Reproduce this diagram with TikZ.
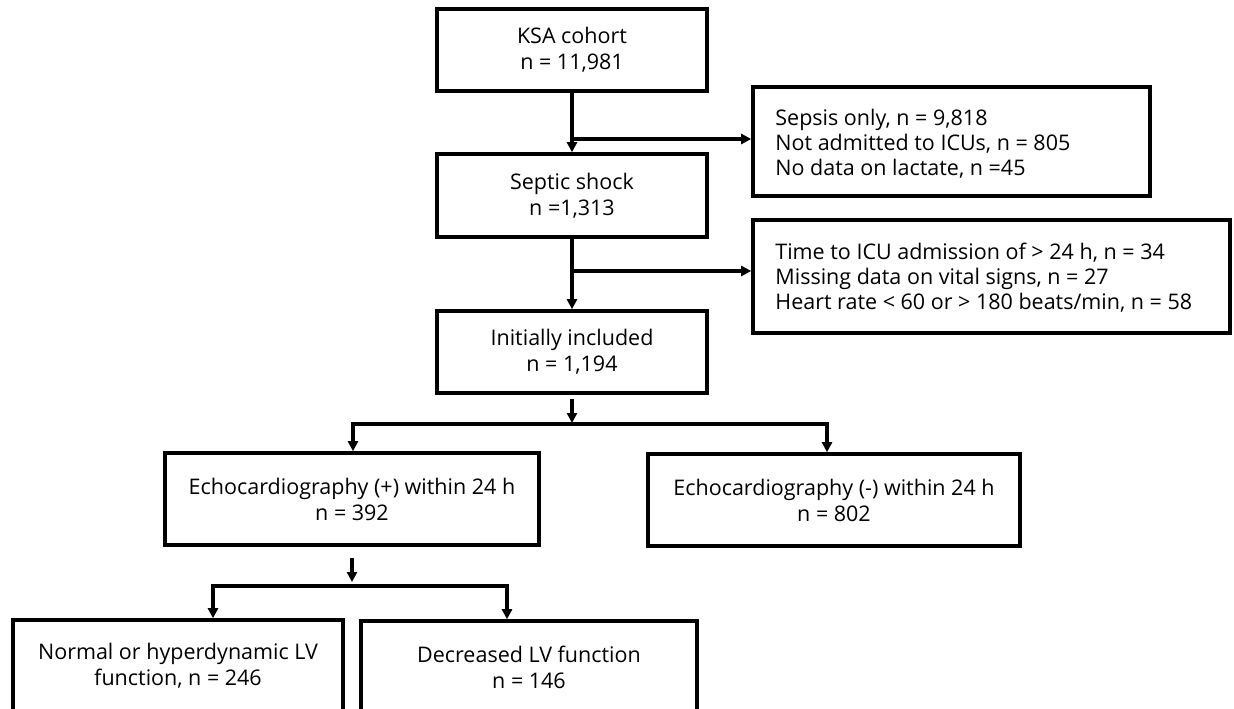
\documentclass[tikz,border=0pt]{standalone}
\usepackage{fontspec}
\setmainfont{Open Sans}
\usetikzlibrary{arrows.meta,calc}
\begin{document}
\begin{tikzpicture}[x=1pt,y=-1pt,
  flowbox/.style={draw, line width=3.6pt, align=center, inner sep=0pt, font=\fontsize{21.5}{26}\selectfont},
  exclbox/.style={draw, line width=3.6pt, inner sep=0pt},
  txt/.style={align=left, inner sep=0pt, font=\fontsize{21.5}{25}\selectfont},
  tip/.style={-{Triangle[length=10pt,width=10pt]}},
  conn/.style={line width=3.2pt, tip},
  plain/.style={line width=3.2pt}]
\useasboundingbox (0,0) rectangle (1234,709);
% main column
\node[flowbox, minimum width=270, minimum height=82] (ksa) at (572,50) {KSA cohort\\n = 11,981};
\node[flowbox, minimum width=270, minimum height=83] (septic) at (572,195.5) {Septic shock\\n =1,313};
\node[flowbox, minimum width=270, minimum height=82] (init) at (572,352) {Initially included\\n = 1,194};
% exclusion boxes
\node[exclbox, minimum width=397, minimum height=109] (excl1) at (951.5,141.5) {};
\node[txt, anchor=west] (excl1t) at ([xshift=24pt,yshift=-2pt]excl1.west) {Sepsis only, n = 9,818\\Not admitted to ICUs, n = 805\\No data on lactate, n =45};
\node[exclbox, minimum width=477, minimum height=113] (excl2) at (991.5,276.5) {};
\node[txt, anchor=west] (excl2t) at ([xshift=24pt,yshift=-1pt]excl2.west) {Time to ICU admission of > 24 h, n = 34\\Missing data on vital signs, n = 27\\Heart rate < 60 or > 180 beats/min, n = 58};
% echo boxes
\node[flowbox, minimum width=374, minimum height=92] (echop) at (352,499) {Echocardiography (+) within 24 h\\n = 392};
\node[flowbox, minimum width=372, minimum height=92] (echom) at (834,500) {Echocardiography (-) within 24 h\\n = 802};
% LV boxes
\node[flowbox, minimum width=330, minimum height=92] (normal) at (178,666) {Normal or hyperdynamic LV\\function, n = 246};
\node[flowbox, minimum width=336, minimum height=92] (decr) at (529,667) {Decreased LV function\\n = 146};
% connectors
\draw[conn] (ksa.south) -- (septic.north);
\coordinate (b1) at (572,139);
\draw[conn] (b1) -- (b1 -| excl1.west);
\draw[conn] (septic.south) -- (init.north);
\coordinate (b2) at (572,271);
\draw[conn] (b2) -- (b2 -| excl2.west);
% split after initially included
\coordinate (s1a) at (572,399);
\coordinate (s1b) at (572,423);
\draw[conn] (s1a) -- (s1b);
\coordinate (h1l) at (353,424);
\coordinate (h1r) at (827,424);
\draw[plain, {Triangle[length=10pt,width=10pt]}-{Triangle[length=10pt,width=10pt]}] (h1l |- echop.north) -- (h1l) -- (h1r) -- (h1r |- echom.north);
% split after echo (+)
\coordinate (s2a) at (352,558);
\coordinate (s2b) at (352,582);
\draw[conn] (s2a) -- (s2b);
\coordinate (h2l) at (213,586);
\coordinate (h2r) at (507,586);
\draw[plain, {Triangle[length=10pt,width=10pt]}-{Triangle[length=10pt,width=10pt]}] (h2l |- normal.north) -- (h2l) -- (h2r) -- (h2r |- decr.north);
\end{tikzpicture}
\end{document}
